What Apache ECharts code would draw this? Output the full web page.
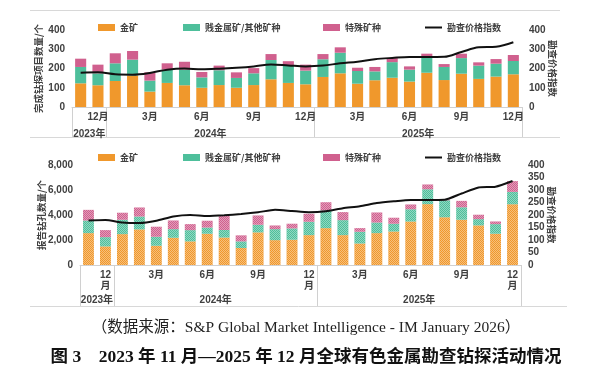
<!DOCTYPE html>
<html><head><meta charset="utf-8">
<script src="https://cdn.jsdelivr.net/npm/echarts@6/dist/echarts.min.js"></script>
<style>html,body{margin:0;padding:0;background:#fff}#c{width:612px;height:375px}</style>
</head><body><div id="c"></div>
<script>
const months = ['11月','12月','1月','2月','3月','4月','5月','6月','7月','8月','9月','10月','11月','12月','1月','2月','3月','4月','5月','6月','7月','8月','9月','10月','11月','12月'];
const yearLabels = ['2023年','2024年','2025年'];
const seriesNames = ['金矿','贱金属矿/其他矿种','特殊矿种','勘查价格指数'];
// top panel: completed drilling projects
const projGold  = [123,113,135,164,80,125,113,100,114,100,114,144,125,118,156,175,121,139,152,132,178,140,173,146,158,170];
const projBase  = [85,62,92,82,57,69,81,54,77,51,61,100,93,71,92,107,66,46,81,62,85,68,81,69,67,69];
const projSpec  = [43,45,52,45,43,33,41,28,24,29,27,31,20,31,27,28,17,23,21,17,14,15,23,17,24,31];
// bottom panel: reported drill holes
const holeGold  = [2550,1490,2470,2850,1540,2180,1890,2500,2200,1360,2610,1990,2020,2390,2950,2390,1720,2550,2680,3480,4870,3820,3620,3170,2500,4860];
const holeBase  = [1010,740,1150,1030,720,690,900,500,600,530,610,880,910,1070,1410,1200,940,850,620,980,1190,1360,1000,500,770,990];
const holeSpec  = [850,560,560,720,800,690,480,540,1150,480,740,290,370,640,660,640,290,800,480,380,380,60,510,350,210,860];
// exploration price index (right axis)
const priceIndex = [178,180,170,168,177,194,200,196,199,204,211,221,216,211,215,227,235,248,255,260,260,261,286,310,313,336];

const C_GOLD = '#F0982C', C_BASE = '#4EBF9B', C_SPEC = '#D0608E';
const FONT = 'Liberation Sans, Noto Sans CJK SC';
const TXT = '#404040';

// half-month grid for year row: 53 points at boundaries/centres
const yearAxisData = Array.from({length: 53}, (_, i) => String(i));
const yearLabelIdx = {2: yearLabels[0], 16: yearLabels[1], 40: yearLabels[2]};
const yearTickIdx = new Set([0, 4, 28, 52]);

function xAxes(gridIndex, twoLine, tickLen, yearMargin) {
  return [{
    type: 'category', gridIndex, data: months,
    axisLine: {show: true, lineStyle: {color: '#d0d0d0'}},
    axisTick: {show: false},
    axisLabel: {
      interval: (i) => i % 3 === 1, margin: 5,
      color: TXT, fontSize: 10, fontWeight: 'bold', fontFamily: FONT, lineHeight: 11,
      formatter: (v) => twoLine && v === '12月' ? '12\n月' : v
    }
  }, {
    type: 'category', gridIndex, data: yearAxisData, boundaryGap: false, position: 'bottom',
    axisLine: {show: false},
    axisTick: {show: true, interval: (i) => yearTickIdx.has(i), length: tickLen, lineStyle: {color: '#d0d0d0'}},
    axisLabel: {
      interval: (i) => i in yearLabelIdx, margin: yearMargin,
      formatter: (v) => yearLabelIdx[v] || '',
      color: TXT, fontSize: 10, fontWeight: 'bold', fontFamily: FONT
    }
  }];
}

function yAxes(gridIndex, leftMax, leftInterval, leftName, leftGap, rightInterval, fmt) {
  const lab = {color: TXT, fontSize: 10, fontWeight: 'bold', fontFamily: FONT};
  const nm = {color: TXT, fontSize: 9.5, fontWeight: 'bold', fontFamily: 'Noto Sans CJK SC'};
  return [{
    type: 'value', gridIndex, min: 0, max: leftMax, interval: leftInterval,
    name: leftName, nameLocation: 'middle', nameGap: leftGap, nameRotate: 90, nameTextStyle: nm,
    nameMoveOverlap: false,
    axisLine: {show: false}, axisTick: {show: false}, splitLine: {show: false},
    axisLabel: Object.assign({margin: 7, formatter: fmt}, lab)
  }, {
    type: 'value', gridIndex, min: 0, max: 400, interval: rightInterval, position: 'right',
    name: '勘查价格指数', nameLocation: 'middle', nameGap: 26, nameRotate: -90, nameTextStyle: nm,
    nameMoveOverlap: false,
    axisLine: {show: false}, axisTick: {show: false}, splitLine: {show: false},
    axisLabel: Object.assign({margin: 7}, lab)
  }];
}

const decal = {symbol: 'rect', symbolSize: 1, dashArrayX: [[1, 1], [0, 1, 1, 0]], dashArrayY: [1, 0], color: 'rgba(255,255,255,0.38)'};

function legends(top) {
  const ts = {color: TXT, fontSize: 9, fontWeight: 'bold', fontFamily: 'Noto Sans CJK SC'};
  const pos = [98, 183, 323, 425];
  return seriesNames.map((n, i) => ({
    data: [n], left: pos[i], top, padding: 0, itemWidth: 17, itemHeight: i === 3 ? 2 : 7, itemGap: 4,
    textStyle: ts, selectedMode: false, icon: 'rect'
  }));
}

function barSeries(x, y, data, name, color, withDecal) {
  return {
    type: 'bar', name, stack: 's' + x, xAxisIndex: x, yAxisIndex: y, data,
    barWidth: '64%', itemStyle: Object.assign({color}, withDecal ? {decal} : {})
  };
}

const option = {
  animation: false,
  backgroundColor: '#fff',
  title: [{
    text: '（数据来源：S&P Global Market Intelligence - IM January 2026）',
    left: 'center', top: 315,
    textStyle: {fontFamily: 'Liberation Serif, Noto Sans CJK SC', fontSize: 15.5, fontWeight: 'normal', color: '#222'}
  }, {
    text: '图 3　2023 年 11 月—2025 年 12 月全球有色金属勘查钻探活动情况',
    left: 'center', top: 344,
    textStyle: {fontFamily: 'Liberation Serif, Noto Sans CJK SC', fontSize: 17.5, fontWeight: 'bold', color: '#111'}
  }],
  legend: legends(23).concat(legends(153)),
  grid: [
    {left: 72, right: 90, top: 30, height: 77},
    {left: 80, right: 91, top: 165, height: 100}
  ],
  xAxis: xAxes(0, false, 30, 22).concat(xAxes(1, true, 41, 30)),
  yAxis: yAxes(0, 400, 100, '完成钻探项目数量/个', 29, 100, null)
    .concat(yAxes(1, 8000, 2000, '报告钻孔数量/个', 34, 50, (v) => v.toLocaleString('en-US'))),
  series: [
    barSeries(0, 0, projGold, seriesNames[0], C_GOLD, false),
    barSeries(0, 0, projBase, seriesNames[1], C_BASE, false),
    barSeries(0, 0, projSpec, seriesNames[2], C_SPEC, false),
    {type: 'line', name: seriesNames[3], xAxisIndex: 0, yAxisIndex: 1, data: priceIndex,
     smooth: 0.35, symbol: 'none', lineStyle: {color: '#111', width: 2}, itemStyle: {color: '#111'}},
    barSeries(2, 2, holeGold, seriesNames[0], C_GOLD, true),
    barSeries(2, 2, holeBase, seriesNames[1], C_BASE, true),
    barSeries(2, 2, holeSpec, seriesNames[2], C_SPEC, true),
    {type: 'line', name: seriesNames[3], xAxisIndex: 2, yAxisIndex: 3, data: priceIndex,
     smooth: 0.2, symbol: 'none', lineStyle: {color: '#111', width: 2}, itemStyle: {color: '#111'}}
  ],
  graphic: [
    {type: 'line', shape: {x1: 30, y1: 10.5, x2: 560, y2: 10.5}, style: {stroke: '#d8d8d8', lineWidth: 1}},
    {type: 'line', shape: {x1: 30, y1: 137.5, x2: 560, y2: 137.5}, style: {stroke: '#d8d8d8', lineWidth: 1}},
    {type: 'line', shape: {x1: 30, y1: 306.5, x2: 567, y2: 306.5}, style: {stroke: '#d8d8d8', lineWidth: 1}}
  ]
};
const chart = echarts.init(document.getElementById('c'), null, {renderer: 'canvas'});
chart.setOption(option);
</script></body></html>
